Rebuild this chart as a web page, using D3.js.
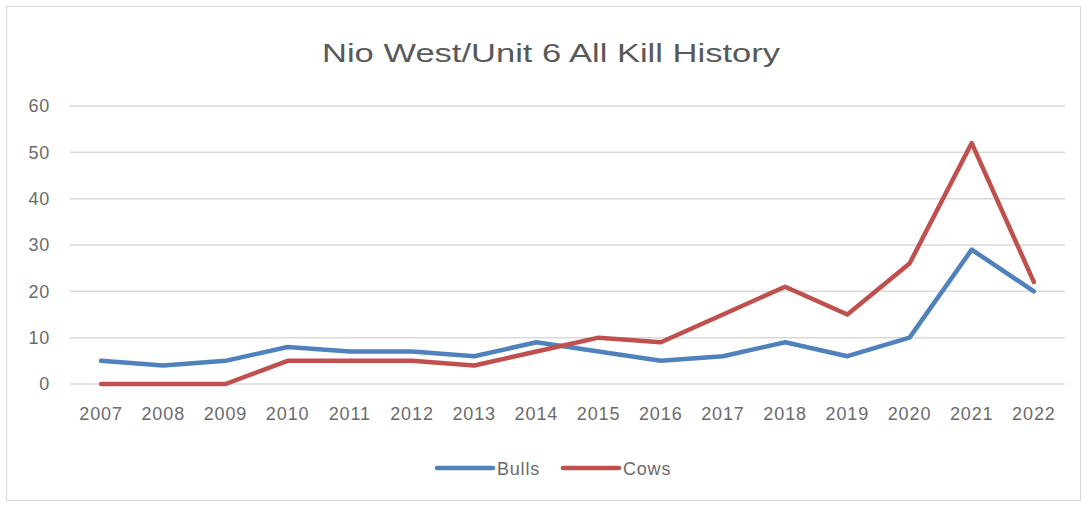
<!DOCTYPE html>
<html><head><meta charset="utf-8">
<script src="https://cdn.jsdelivr.net/npm/d3@7"></script>
<style>body{margin:0;background:#fff;}svg{display:block;}text{font-family:"Liberation Sans",Arial,sans-serif;}</style>
</head><body><div id="chart"></div>
<script>
const years = ["2007","2008","2009","2010","2011","2012","2013","2014","2015","2016","2017","2018","2019","2020","2021","2022"];
const bulls = [5,4,5,8,7,7,6,9,7,5,6,9,6,10,29,20];
const cows  = [0,0,0,5,5,5,4,7,10,9,15,21,15,26,52,22];
const yTicks = [0,10,20,30,40,50,60];
const seriesNames = ["Bulls","Cows"];
const colors = ["#4F81BD","#C0504D"];

const W = 1087, H = 506;
const svg = d3.select("#chart").append("svg").attr("width", W).attr("height", H);
svg.append("rect").attr("x",6.5).attr("y",6.5).attr("width",1074).attr("height",494)
  .attr("fill","#fff").attr("stroke","#d9d9d9").attr("stroke-width",1);

svg.append("text").attr("x",551).attr("y",62).attr("text-anchor","middle")
  .attr("font-size",26).attr("fill","#595959").attr("textLength",458).attr("lengthAdjust","spacingAndGlyphs")
  .text("Nio West/Unit 6 All Kill History");

const x = d3.scaleBand().domain(years).range([70,1065]);
const y = d3.scaleLinear().domain([0,60]).range([384,106]);

const grid = svg.append("g");
grid.selectAll("line").data(yTicks).join("line")
  .attr("x1",70).attr("x2",1065).attr("y1",d=>y(d)).attr("y2",d=>y(d))
  .attr("stroke","#d9d9d9").attr("stroke-width",1.5);

const yAxis = svg.append("g").attr("transform","translate(70,0)")
  .call(d3.axisLeft(y).tickValues(yTicks).tickSize(0).tickPadding(20));
yAxis.select(".domain").remove();
yAxis.selectAll("text").attr("font-size",18).attr("letter-spacing",0.8).attr("fill","#6b6b6b").attr("font-family","Liberation Sans, Arial, sans-serif");

const xAxis = svg.append("g").attr("transform","translate(0,384)")
  .call(d3.axisBottom(x).tickSize(0).tickPadding(23));
xAxis.select(".domain").remove();
xAxis.selectAll("text").attr("font-size",18).attr("letter-spacing",0.9).attr("fill","#6b6b6b").attr("font-family","Liberation Sans, Arial, sans-serif");

const line = d3.line().x((d,i)=>x(years[i])+x.bandwidth()/2).y(d=>y(d));
[bulls,cows].forEach((s,k)=>{
  svg.append("path").datum(s).attr("d",line).attr("fill","none")
    .attr("stroke",colors[k]).attr("stroke-width",4.5).attr("stroke-linejoin","round").attr("stroke-linecap","round");
});

const legX = [437,563];
seriesNames.forEach((n,k)=>{
  svg.append("line").attr("x1",legX[k]).attr("x2",legX[k]+56).attr("y1",468).attr("y2",468)
    .attr("stroke",colors[k]).attr("stroke-width",4.5).attr("stroke-linecap","round");
  svg.append("text").attr("x",legX[k]+60).attr("y",475).attr("font-size",18).attr("letter-spacing",0.8).attr("fill","#6b6b6b").text(n);
});
</script></body></html>
